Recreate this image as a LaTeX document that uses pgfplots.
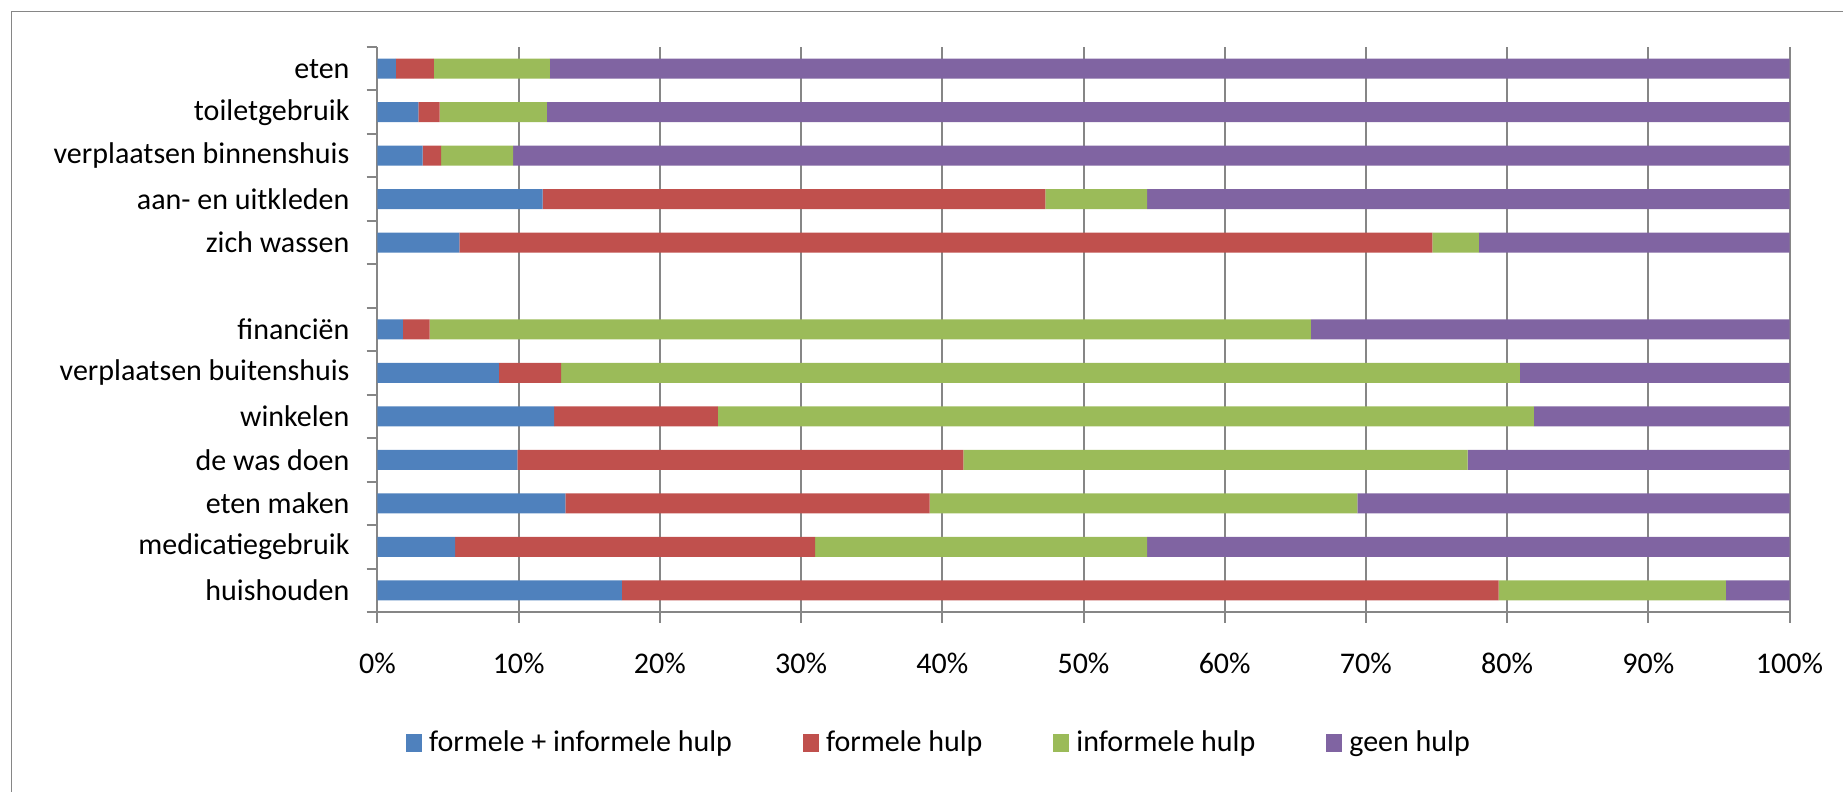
\documentclass[border=0pt]{standalone}
\usepackage{pgfplots}
\pgfplotsset{compat=1.18}
\usepackage{pgfplotstable}
\usepackage{fontspec}
\setmainfont{Carlito}
\definecolor{cA}{HTML}{4F81BD}
\definecolor{cB}{HTML}{C0504D}
\definecolor{cC}{HTML}{9BBB59}
\definecolor{cD}{HTML}{8064A2}
\definecolor{gridc}{HTML}{868686}
\pgfplotstableread{
y  a     b     c     d
0  17.3  62.1  16.1  4.5
1  5.5   25.5  23.5  45.5
2  13.3  25.8  30.3  30.6
3  9.9   31.6  35.7  22.8
4  12.5  11.6  57.8  18.1
5  8.6   4.4   67.9  19.1
6  1.8   1.9   62.4  33.9
8  5.8   68.9  3.3   22.0
9  11.7  35.6  7.2   45.5
10 3.2   1.3   5.1   90.4
11 2.9   1.5   7.6   88.0
12 1.3   2.7   8.2   87.8
}\datatable
\begin{document}
\begin{tikzpicture}
\useasboundingbox (0,0) rectangle (921.5pt,396pt);
\draw[gridc, line width=0.75pt] (5.75pt,-5pt) -- (5.75pt,390.25pt) -- (930pt,390.25pt);
\begin{axis}[
  at={(188.75pt,90pt)}, anchor=south west,
  scale only axis,
  width=706pt, height=282.5pt,
  xbar stacked, bar width=10pt,
  xmin=0, xmax=100, ymin=-0.5, ymax=12.5,
  axis x line*=bottom, axis y line*=left,
  axis line style={gridc, line width=1pt},
  xtick={0,10,...,100},
  xticklabels={0\%,10\%,20\%,30\%,40\%,50\%,60\%,70\%,80\%,90\%,100\%},
  ytick={-0.5,0.5,1.5,2.5,3.5,4.5,5.5,6.5,7.5,8.5,9.5,10.5,11.5,12.5},
  yticklabels={,huishouden,medicatiegebruik,eten maken,de was doen,winkelen,verplaatsen buitenshuis,financiën,,zich wassen,aan- en uitkleden,verplaatsen binnenshuis,toiletgebruik,eten},
  tick align=outside, major tick length=5.5pt,
  tick style={gridc, line width=1pt},
  xmajorgrids, major grid style={gridc, line width=1pt},
  tick label style={font=\fontsize{15}{18}\selectfont, text=black},
  yticklabel style={yshift=-10.865pt, xshift=-5pt},
  xticklabel style={anchor=center, yshift=-20pt},
  legend columns=4,
  legend style={at={(0.3994,-0.231)}, anchor=center, draw=none,
    font=\fontsize{15}{18}\selectfont,
    /tikz/every even column/.append style={column sep=32pt},
    nodes={inner sep=2pt, inner xsep=3.5pt}},
  legend image code/.code={\fill[#1] (0pt,-4.5pt) rectangle (8pt,4.5pt);},
]
\addplot[fill=cA, draw=none] table[x=a, y=y] {\datatable};
\addplot[fill=cB, draw=none] table[x=b, y=y] {\datatable};
\addplot[fill=cC, draw=none] table[x=c, y=y] {\datatable};
\addplot[fill=cD, draw=none] table[x=d, y=y] {\datatable};
\legend{formele + informele hulp, formele hulp, informele hulp, geen hulp}
\end{axis}
\end{tikzpicture}
\end{document}
